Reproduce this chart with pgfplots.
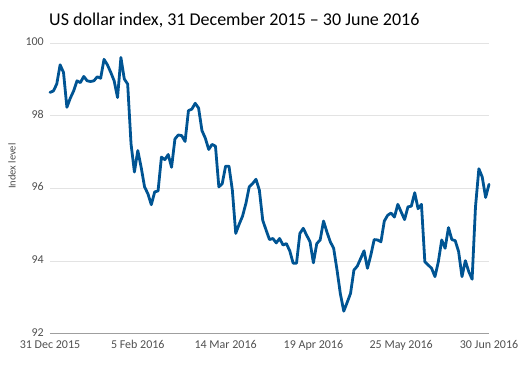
\documentclass[border=0pt]{standalone}
\usepackage{fontspec}
\setmainfont{Carlito}
\usepackage{pgfplots}
\usepackage{pgfplotstable}
\pgfplotsset{compat=1.18}
\definecolor{lineblue}{HTML}{005493}
\definecolor{tickgray}{HTML}{505050}
\pgfplotstableread{
idx val
0 98.64
1 98.68
2 98.87
3 99.40
4 99.19
5 98.23
6 98.48
7 98.68
8 98.96
9 98.91
10 99.08
11 98.96
12 98.94
13 98.96
14 99.07
15 99.03
16 99.55
17 99.40
18 99.19
19 98.96
20 98.50
21 99.60
22 99.01
23 98.87
24 97.22
25 96.45
26 97.04
27 96.58
28 96.04
29 95.85
30 95.55
31 95.90
32 95.93
33 96.86
34 96.79
35 96.93
36 96.58
37 97.36
38 97.47
39 97.45
40 97.29
41 98.14
42 98.18
43 98.34
44 98.21
45 97.59
46 97.38
47 97.07
48 97.21
49 97.16
50 96.04
51 96.13
52 96.61
53 96.61
54 95.95
55 94.76
56 95.01
57 95.23
58 95.58
59 96.04
60 96.13
61 96.25
62 95.95
63 95.12
64 94.85
65 94.59
66 94.62
67 94.50
68 94.62
69 94.44
70 94.48
71 94.28
72 93.94
73 93.94
74 94.76
75 94.90
76 94.71
77 94.53
78 93.95
79 94.48
80 94.58
81 95.10
82 94.80
83 94.53
84 94.35
85 93.75
86 93.09
87 92.62
88 92.86
89 93.11
90 93.75
91 93.86
92 94.07
93 94.28
94 93.80
95 94.16
96 94.59
97 94.58
98 94.53
99 95.10
100 95.26
101 95.32
102 95.21
103 95.56
104 95.35
105 95.14
106 95.49
107 95.51
108 95.88
109 95.44
110 95.56
111 93.98
112 93.89
113 93.80
114 93.57
115 93.98
116 94.58
117 94.35
118 94.92
119 94.59
120 94.56
121 94.26
122 93.57
123 94.01
124 93.71
125 93.50
126 95.49
127 96.54
128 96.31
129 95.75
130 96.11
}\dollarindex
\begin{document}
\begin{tikzpicture}
\path[use as bounding box] (-50pt,-33.3pt) rectangle (481pt,333.7pt);
\begin{axis}[
  name=ax, at={(0pt,0pt)}, anchor=south west,
  scale only axis, width=439pt, height=290.7pt,
  xmin=0, xmax=130, ymin=92, ymax=100,
  xtick={0,26,52,78,104,130},
  xticklabels={31 Dec 2015,5 Feb 2016,14 Mar 2016,19 Apr 2016,25 May 2016,30 Jun 2016},
  ytick={92,94,96,98,100},
  axis x line*=bottom, axis y line*=left,
  y axis line style={draw=none},
  x axis line style={draw=gray!75, line width=0.8pt},
  major tick length=0pt,
  tick style={draw=none},
  ymajorgrids, grid style={draw=gray!22, line width=0.9pt},
  /pgf/number format/assume math mode=true,
  ticklabel style={font=\fontsize{12}{14}\selectfont, text=tickgray},
  yticklabel style={anchor=east, inner sep=0pt, xshift=-6pt, yshift=1.5pt},
  xticklabel style={anchor=north, inner sep=0pt, yshift=-6.5pt},
  clip=false,
]
\addplot[color=lineblue, line width=2.8pt, line join=round, line cap=round] table[x=idx, y=val] {\dollarindex};
\end{axis}
\node[anchor=base west, inner sep=0pt, font=\fontsize{18}{21}\selectfont] at (-1pt,308.5pt) {US dollar index, 31 December 2015 – 30 June 2016};
\node[rotate=90, inner sep=0pt, font=\fontsize{10.5}{12}\selectfont, text=tickgray] at (-38pt,167.5pt) {Index level};
\end{tikzpicture}
\end{document}
